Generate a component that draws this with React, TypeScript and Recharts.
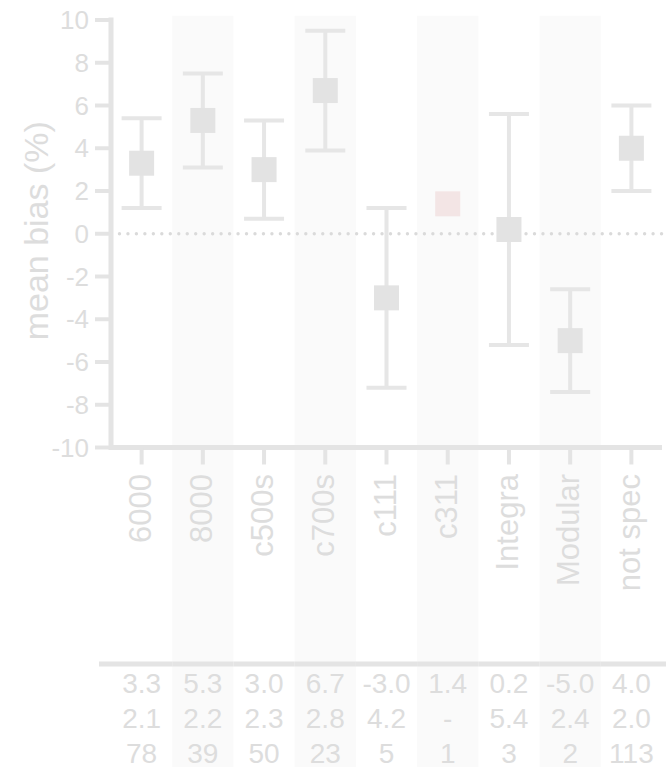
import {
  ComposedChart,
  Scatter,
  ErrorBar,
  XAxis,
  YAxis,
  ReferenceArea,
  ReferenceLine,
  Label,
} from 'recharts';

// analyser platforms, mean bias (%), SD of bias, number of labs
const analysers = ['6000', '8000', 'c500s', 'c700s', 'c111', 'c311', 'Integra', 'Modular', 'not spec'];
const meanBias = [3.3, 5.3, 3.0, 6.7, -3.0, 1.4, 0.2, -5.0, 4.0];
const sdBias: (number | null)[] = [2.1, 2.2, 2.3, 2.8, 4.2, null, 5.4, 2.4, 2.0];
const labCount = [78, 39, 50, 23, 5, 1, 3, 2, 113];
const yTicks = [-10, -8, -6, -4, -2, 0, 2, 4, 6, 8, 10];

const data = analysers.map((name, i) => ({
  name,
  mean: meanBias[i],
  sd: sdBias[i],
  n: labCount[i],
}));

const LINE = '#e4e4e4';
const TEXT = '#dddddd';
const BAND = '#fafafa';

const Square = (props: any) => {
  const { cx, cy, payload } = props;
  const s = 25;
  // single-lab group has no SD, drawn in a faint red
  const fill = payload.sd == null ? '#f3e5e5' : '#e3e3e3';
  return <rect x={cx - s / 2} y={cy - s / 2} width={s} height={s} fill={fill} />;
};

const fmt = (v: number | null) => (v == null ? '-' : v.toFixed(1));

const AnalyserTick = (props: any) => {
  const { x, y, payload, index, visibleTicksCount } = props;
  const half = payload.offset || 30.6;
  const row = data[index];
  const left = index === 0 ? x - half - 12 : x - half;
  const right = index === visibleTicksCount - 1 ? x + half + 6 : x + half;
  return (
    <g>
      <text
        x={x + 9}
        y={y}
        transform={`rotate(-90, ${x + 9}, ${y})`}
        textAnchor="end"
        fontSize={31}
        fill={TEXT}
      >
        {payload.value}
      </text>
      <line x1={left} x2={right} y1={y + 190} y2={y + 190} stroke={LINE} strokeWidth={5} />
      <text x={x} y={y + 219} textAnchor="middle" fontSize={28} fill={TEXT}>
        {fmt(row.mean)}
      </text>
      <text x={x} y={y + 254} textAnchor="middle" fontSize={28} fill={TEXT}>
        {fmt(row.sd)}
      </text>
      <text x={x} y={y + 289} textAnchor="middle" fontSize={28} fill={TEXT}>
        {row.n}
      </text>
    </g>
  );
};

const YTitle = (props: any) => {
  const { viewBox } = props;
  const cy = viewBox.y + viewBox.height / 2 - 3;
  return (
    <text x={48} y={cy} transform={`rotate(-90, 48, ${cy})`} textAnchor="middle" fontSize={34} fill={TEXT}>
      mean bias (%)
    </text>
  );
};

export default function App() {
  return (
    <div style={{ position: 'absolute', left: 0, top: 0, fontFamily: '"Liberation Sans", Arial, sans-serif' }}>
      <ComposedChart width={666} height={767} data={data} margin={{ top: 20, right: 4, bottom: 0, left: 0 }}>
        {analysers
          .filter((_, i) => i % 2 === 1)
          .map((name) => (
            <ReferenceArea
              key={name}
              x1={name}
              x2={name}
              y1={-25}
              y2={10.2}
              fill={BAND}
              fillOpacity={1}
              stroke="none"
              ifOverflow="visible"
            />
          ))}
        <XAxis
          dataKey="name"
          type="category"
          scale="band"
          interval={0}
          height={319.5}
          axisLine={{ stroke: LINE, strokeWidth: 5 }}
          tickLine={{ stroke: LINE, strokeWidth: 4 }}
          tickSize={17}
          tickMargin={9.5}
          tick={<AnalyserTick />}
        />
        <YAxis
          type="number"
          domain={[-10, 10]}
          ticks={yTicks}
          interval={0}
          allowDataOverflow
          width={111}
          axisLine={{ stroke: LINE, strokeWidth: 5, strokeLinecap: 'square' }}
          tickLine={{ stroke: LINE, strokeWidth: 4 }}
          tickSize={16}
          tickMargin={6}
          tick={{ fill: TEXT, fontSize: 26 }}
        >
          <Label content={<YTitle />} />
        </YAxis>
        <ReferenceLine
          y={0}
          stroke="#dadada"
          strokeWidth={3.4}
          strokeDasharray="0 8.47"
          strokeLinecap="round"
        />
        <Scatter dataKey="mean" shape={<Square />} isAnimationActive={false}>
          <ErrorBar dataKey="sd" direction="y" width={20} stroke="#e6e6e6" strokeWidth={4} isAnimationActive={false} />
        </Scatter>
      </ComposedChart>
    </div>
  );
}
